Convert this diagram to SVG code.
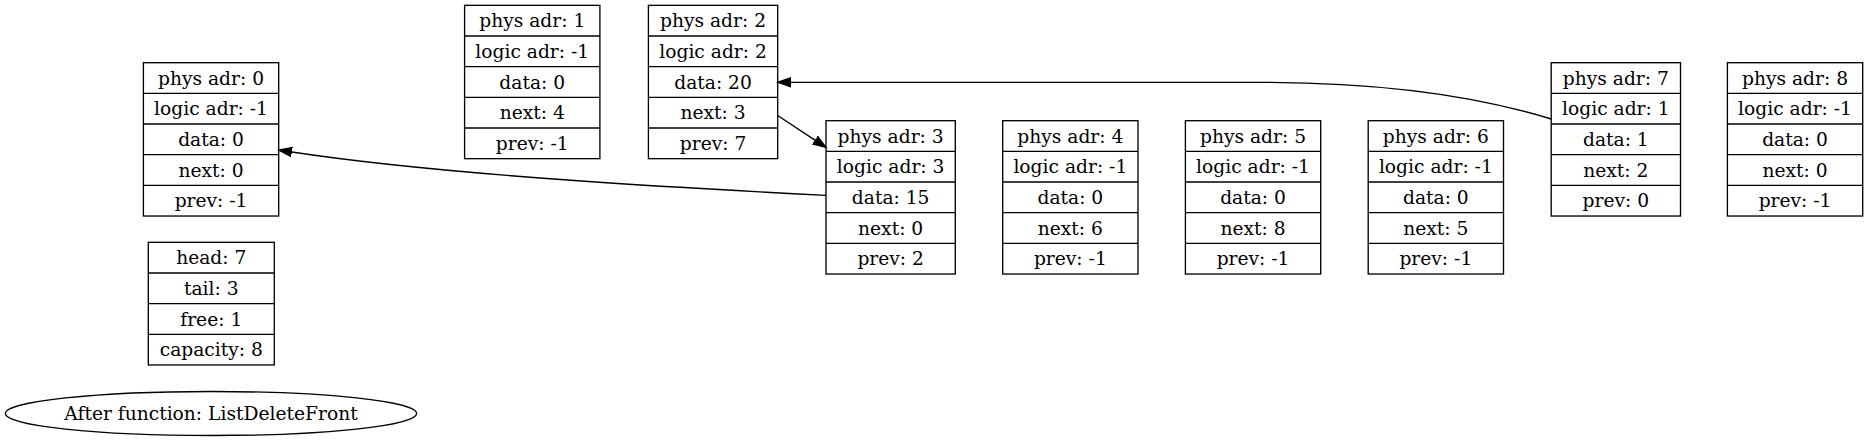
<svg xmlns="http://www.w3.org/2000/svg" width="1868" height="444" viewBox="0 0 1868 444">
<style>
.box{fill:none;stroke:#000;stroke-width:1.33}
.sep{stroke:#000;stroke-width:1.33}
text{font-family:"DejaVu Serif","Liberation Serif",serif;font-size:18.67px;fill:#000;text-anchor:middle}
.edge{fill:none;stroke:#000;stroke-width:1.33}
</style>
<defs>
<marker id="ah" markerUnits="userSpaceOnUse" markerWidth="16" markerHeight="12" viewBox="0 -6 16 12" refX="0" refY="0" orient="auto">
<path d="M0,-4.67 L13.33,0 L0,4.67 Z" fill="#000" stroke="#000" stroke-width="1.33"/>
</marker>
</defs>
<rect width="1868" height="444" fill="#fff"/>
<g id="node0">
<rect class="box" x="143.4" y="62.7" width="135.3" height="153.33"/>
<path class="sep" d="M143.4,93.37H278.7M143.4,124.03H278.7M143.4,154.7H278.7M143.4,185.37H278.7"/>
<text x="211.05" y="84.7">phys adr: 0</text>
<text x="211.05" y="115.37">logic adr: -1</text>
<text x="211.05" y="146.03">data: 0</text>
<text x="211.05" y="176.7">next: 0</text>
<text x="211.05" y="207.37">prev: -1</text>
</g>
<g id="node1">
<rect class="box" x="464.6" y="5.33" width="135.3" height="153.33"/>
<path class="sep" d="M464.6,36H599.9M464.6,66.67H599.9M464.6,97.33H599.9M464.6,128H599.9"/>
<text x="532.25" y="27.33">phys adr: 1</text>
<text x="532.25" y="58">logic adr: -1</text>
<text x="532.25" y="88.67">data: 0</text>
<text x="532.25" y="119.33">next: 4</text>
<text x="532.25" y="150">prev: -1</text>
</g>
<g id="node2">
<rect class="box" x="648.4" y="5.33" width="129.3" height="153.33"/>
<path class="sep" d="M648.4,36H777.7M648.4,66.67H777.7M648.4,97.33H777.7M648.4,128H777.7"/>
<text x="713.05" y="27.33">phys adr: 2</text>
<text x="713.05" y="58">logic adr: 2</text>
<text x="713.05" y="88.67">data: 20</text>
<text x="713.05" y="119.33">next: 3</text>
<text x="713.05" y="150">prev: 7</text>
</g>
<g id="node3">
<rect class="box" x="826" y="120.7" width="129.3" height="153.33"/>
<path class="sep" d="M826,151.37H955.3M826,182.03H955.3M826,212.7H955.3M826,243.37H955.3"/>
<text x="890.65" y="142.7">phys adr: 3</text>
<text x="890.65" y="173.37">logic adr: 3</text>
<text x="890.65" y="204.03">data: 15</text>
<text x="890.65" y="234.7">next: 0</text>
<text x="890.65" y="265.37">prev: 2</text>
</g>
<g id="node4">
<rect class="box" x="1002.7" y="120.7" width="135.3" height="153.33"/>
<path class="sep" d="M1002.7,151.37H1138M1002.7,182.03H1138M1002.7,212.7H1138M1002.7,243.37H1138"/>
<text x="1070.35" y="142.7">phys adr: 4</text>
<text x="1070.35" y="173.37">logic adr: -1</text>
<text x="1070.35" y="204.03">data: 0</text>
<text x="1070.35" y="234.7">next: 6</text>
<text x="1070.35" y="265.37">prev: -1</text>
</g>
<g id="node5">
<rect class="box" x="1185.4" y="120.7" width="135.3" height="153.33"/>
<path class="sep" d="M1185.4,151.37H1320.7M1185.4,182.03H1320.7M1185.4,212.7H1320.7M1185.4,243.37H1320.7"/>
<text x="1253.05" y="142.7">phys adr: 5</text>
<text x="1253.05" y="173.37">logic adr: -1</text>
<text x="1253.05" y="204.03">data: 0</text>
<text x="1253.05" y="234.7">next: 8</text>
<text x="1253.05" y="265.37">prev: -1</text>
</g>
<g id="node6">
<rect class="box" x="1368.2" y="120.7" width="135.3" height="153.33"/>
<path class="sep" d="M1368.2,151.37H1503.5M1368.2,182.03H1503.5M1368.2,212.7H1503.5M1368.2,243.37H1503.5"/>
<text x="1435.85" y="142.7">phys adr: 6</text>
<text x="1435.85" y="173.37">logic adr: -1</text>
<text x="1435.85" y="204.03">data: 0</text>
<text x="1435.85" y="234.7">next: 5</text>
<text x="1435.85" y="265.37">prev: -1</text>
</g>
<g id="node7">
<rect class="box" x="1551.2" y="62.7" width="129.3" height="153.33"/>
<path class="sep" d="M1551.2,93.37H1680.5M1551.2,124.03H1680.5M1551.2,154.7H1680.5M1551.2,185.37H1680.5"/>
<text x="1615.85" y="84.7">phys adr: 7</text>
<text x="1615.85" y="115.37">logic adr: 1</text>
<text x="1615.85" y="146.03">data: 1</text>
<text x="1615.85" y="176.7">next: 2</text>
<text x="1615.85" y="207.37">prev: 0</text>
</g>
<g id="node8">
<rect class="box" x="1727.4" y="62.7" width="135.3" height="153.33"/>
<path class="sep" d="M1727.4,93.37H1862.7M1727.4,124.03H1862.7M1727.4,154.7H1862.7M1727.4,185.37H1862.7"/>
<text x="1795.05" y="84.7">phys adr: 8</text>
<text x="1795.05" y="115.37">logic adr: -1</text>
<text x="1795.05" y="146.03">data: 0</text>
<text x="1795.05" y="176.7">next: 0</text>
<text x="1795.05" y="207.37">prev: -1</text>
</g>
<g id="info">
<rect class="box" x="148.3" y="242.3" width="126" height="122.67"/>
<path class="sep" d="M148.3,272.97H274.3M148.3,303.63H274.3M148.3,334.3H274.3"/>
<text x="211.3" y="264.3">head: 7</text>
<text x="211.3" y="294.97">tail: 3</text>
<text x="211.3" y="325.63">free: 1</text>
<text x="211.3" y="356.3">capacity: 8</text>
</g>
<g id="title">
<ellipse class="box" cx="211" cy="413.5" rx="205.7" ry="22"/>
<text x="211" y="420.3">After function: ListDeleteFront</text>
</g>
<g id="connectors">
<path class="edge" marker-end="url(#ah)" d="M826,195.3 C700,189 450,176 291.9,152"/>
<path class="edge" marker-end="url(#ah)" d="M1551.2,119 C1480,97 1390,82.3 1260,82.3 L791,82.3"/>
<path class="edge" marker-end="url(#ah)" d="M777.7,115.5 L814.9,140.1"/>
</g>
</svg>
